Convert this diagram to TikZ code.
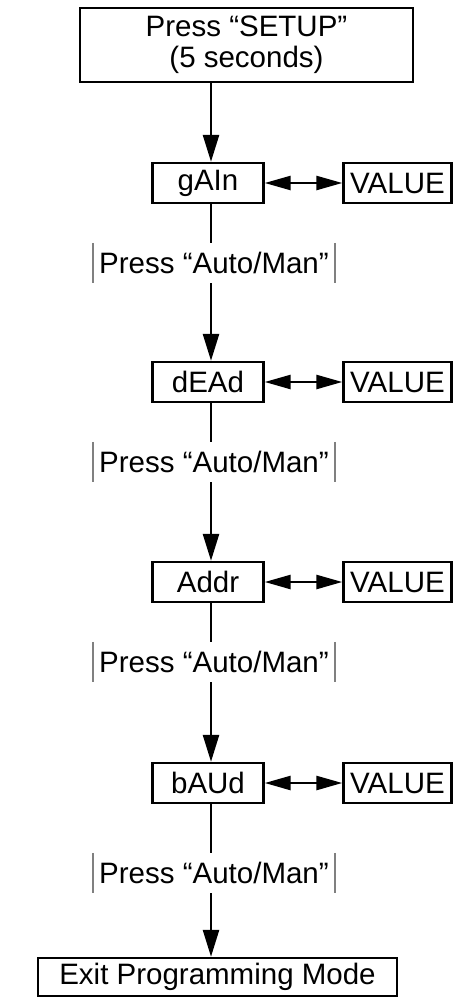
\documentclass[tikz,border=0pt]{standalone}
\usepackage{fontspec}
\setmainfont{Liberation Sans}
\usetikzlibrary{arrows.meta,positioning}
\newcommand*{\bigtext}{\fontsize{29.5}{31}\selectfont}

\begin{document}
\begin{tikzpicture}[x=1pt,y=1pt,
    box/.style  = {draw, line width=2.4pt, inner sep=0pt, font=\bigtext,
                   align=center},
    stage/.style = {box, minimum width=111pt, minimum height=40pt},
    value/.style = {box, minimum width=108pt, minimum height=40pt},
    grayrule/.style = {draw=black!50, line width=2.4pt},
    press/.style = {inner sep=0pt, minimum width=242pt, minimum height=40pt,
                    font=\bigtext,
      append after command={(\tikzlastnode.north west) edge[grayrule] (\tikzlastnode.south west)
                            (\tikzlastnode.north east) edge[grayrule] (\tikzlastnode.south east)}},
    link/.style = {line width=2.6pt},
    flow/.style = {link, -{Triangle[length=27pt,width=16pt]}},
    swap/.style = {link, {Triangle[length=26pt,width=14pt]}-{Triangle[length=26pt,width=14pt]}}]
  \useasboundingbox (0,0) rectangle (454,-998);

  \coordinate (col) at (211,0);
  \node[box, minimum width=333pt, minimum height=74pt] (setup) at (246.5,-45)
    {Press “SETUP”\\(5 seconds)};
  \node[box, minimum width=359pt, minimum height=38pt] (exit) at (217.5,-977)
    {Exit Programming Mode};

  % the four settings
  \foreach \name/\txt/\ybox/\ylbl in {gain/gAIn/-183/-263, dead/dEAd/-382/-462,
                                      addr/Addr/-582/-662, baud/bAUd/-783/-873} {
    \node[stage] (\name) at (208,\ybox) {\txt};
    \node[value] (\name val) at (397.5,\ybox) {VALUE};
    \node[press] (\name lbl) at (214,\ylbl) {Press “Auto/Man”};
    \draw[swap] (\name.east) -- (\name val.west);
    \draw[link] (\name.south -| col) -- (\name lbl.north -| col);
  }

  \foreach \a/\b in {setup/gain, gainlbl/dead, deadlbl/addr, addrlbl/baud, baudlbl/exit}
    \draw[flow] (\a.south -| col) -- (\b.north -| col);
\end{tikzpicture}
\end{document}
